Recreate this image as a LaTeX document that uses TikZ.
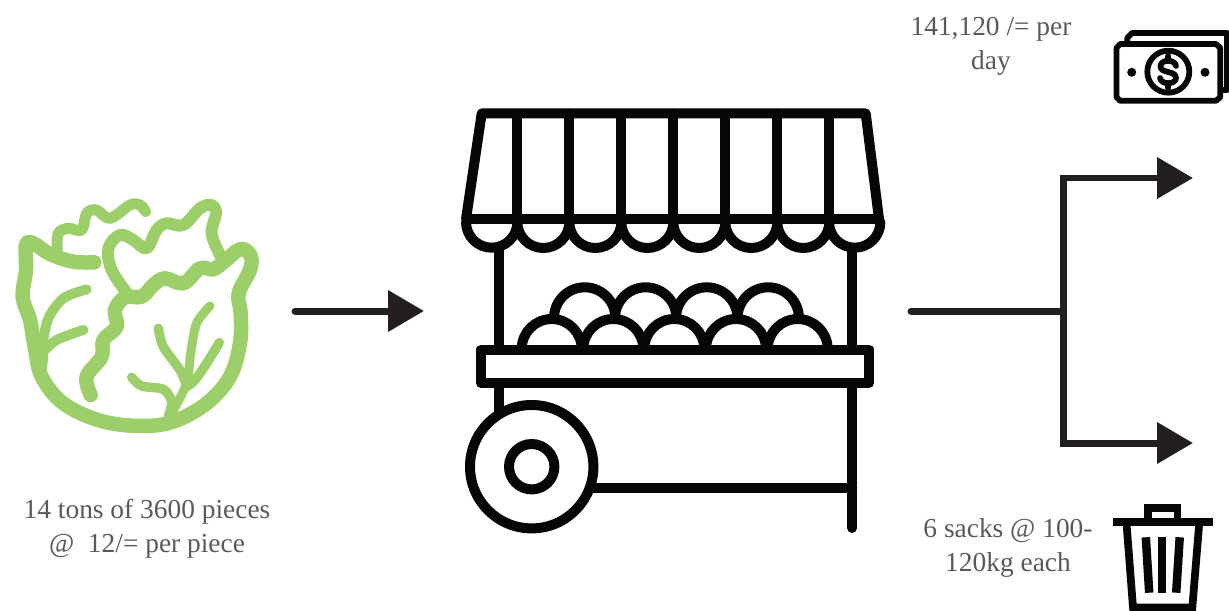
\documentclass[tikz,border=0pt]{standalone}
\usepackage{fontspec}
\setmainfont{Liberation Serif}
\usetikzlibrary{arrows.meta, positioning}
\definecolor{leaf-green}{RGB}{156,207,106}
\definecolor{arrow-dark}{RGB}{35,31,32}
\definecolor{icon-black}{RGB}{6,6,4}
\definecolor{note-gray}{RGB}{89,89,89}

\begin{document}
\begin{tikzpicture}[
  x=0.02cm, y=-0.02cm,
  note/.style={align=center, font=\fontsize{15.6pt}{19.3pt}\selectfont, text=note-gray, inner sep=0pt},
  arr/.style={-{Triangle[length=0.72cm, width=0.8cm]}, line width=0.14cm, arrow-dark},
  icon/.style={line width=0.2cm, icon-black, line join=round, line cap=round},
  thinicon/.style={line width=0.115cm, icon-black, line join=round, line cap=round},
  leaf/.style={line width=0.29cm, leaf-green, line join=round, line cap=round},
  vein/.style={line width=0.24cm, leaf-green, line join=round, line cap=round},
]
  \useasboundingbox (0,0) rectangle (1229,611);
  \clip (0,0) rectangle (1229,611);

  % Lettuce
  \begin{scope}[shift={(0,180)}, scale=0.3333]
    \draw[leaf] plot[smooth, tension=0.6] coordinates {(283,247) (220,245) (150,222) (100,190) (78,195) (78,270) (68,350) (90,420) (104,500) (125,590) (190,670) (300,722) (420,738) (520,725) (620,670) (690,590) (720,490) (722,400) (716,340) (750,270) (752,228) (722,207) (672,245) (640,268) (600,265) (550,310) (495,295) (460,315) (425,350) (375,352) (345,390) (350,440) (310,480) (305,530) (260,590) (272,645)};
    \draw[vein] plot[smooth, tension=0.6] coordinates {(378,335) (335,270) (325,205) (360,165) (400,180) (440,205) (470,150) (500,130) (550,135) (600,85) (635,75) (648,100) (635,160) (660,225)};
    \draw[vein, line width=0.22cm] plot[smooth, tension=0.6] coordinates {(172,208) (175,160) (205,145) (245,150) (260,100) (290,90) (330,115) (390,75) (420,75) (437,95)};
    \draw[vein, line width=0.2cm] plot[smooth] coordinates {(128,490) (145,415) (190,355) (260,328)};
    \draw[vein, line width=0.2cm] plot[smooth] coordinates {(130,515) (170,480) (250,450)};
    \draw[vein, line width=0.18cm] plot[smooth] coordinates {(515,700) (560,610) (572,520) (590,430) (630,378)};
    \draw[vein, line width=0.19cm] plot[smooth] coordinates {(475,445) (490,500) (540,570) (555,605)};
    \draw[vein, line width=0.19cm] plot[smooth] coordinates {(658,488) (620,550) (585,600) (560,620)};
    \draw[vein, line width=0.19cm] plot[smooth] coordinates {(395,592) (425,618) (490,628) (515,665) (505,710)};
    \fill[leaf-green] (95,430) -- (125,470) -- (145,530) -- (140,570) -- (100,560) -- cycle;
  \end{scope}

  % Stall
  \draw[icon] (481.7,113.5) -- (865.7,113.5) -- (879,219) -- (466,219) -- cycle;
  \foreach \x in {517.3,569.3,621.3,673.3,725.3,777.3,829}
    \draw[icon] (\x,113.5) -- (\x,222);
  \foreach \x/\r in {466/25.7,517.3/26,569.3/26,621.3/26,673.3/26,725.3/26,777.3/26,829/25.7}
    \draw[icon] (\x,222) arc (180:0:\r);
  \draw[icon] (499.3,250) -- (499.3,349);
  \draw[icon] (852.3,250) -- (852.3,349);
  \foreach \x in {554,615,676,737.5}
    \draw[icon] (\x,318) arc (180:360:30.7);
  \foreach \x in {521.7,583.3,644.3,706,767.7}
    \draw[icon] (\x,349) arc (180:360:30);
  \draw[icon] (481,349.5) rectangle (869,383);
  \draw[icon] (499.3,383) -- (499.3,412);
  \draw[icon] (852.3,383) -- (852.3,528);
  \draw[icon] (531.7,466.7) circle [radius=61.7];
  \draw[icon] (531.7,466.7) circle [radius=22.7];
  \draw[icon] (590,487.7) -- (852.3,487.7);

  % Money
  \draw[thinicon] (1127.3,44) -- (1127.3,38) -- (1132,33) -- (1227,33) -- (1227,90) -- (1221,90);
  \draw[thinicon] (1120,44) -- (1216,44) -- (1220.3,48) -- (1220.3,97) -- (1216,100.8) -- (1120,100.8) -- (1116.5,97) -- (1116.5,48) -- cycle;
  \draw[thinicon] (1168.3,71.7) circle [radius=21];
  \fill[icon-black] (1131.7,72.3) circle [radius=4.5];
  \fill[icon-black] (1205,72.3) circle [radius=4.5];
  \draw[thinicon] (1176,66) .. controls (1175,59) and (1161,59) .. (1160.5,66) .. controls (1160,74) and (1176,70) .. (1176,78) .. controls (1175.5,85) and (1161,85) .. (1160,78);
  \draw[thinicon] (1168.3,56) -- (1168.3,61);
  \draw[thinicon] (1168.3,83) -- (1168.3,88);

  % Trash
  \draw[icon-black, line width=0.16cm] (1113.3,522) -- (1213.3,522);
  \draw[icon-black, line width=0.15cm] (1148,520) -- (1148,508) -- (1177.5,508) -- (1177.5,520);
  \draw[icon-black, line width=0.155cm] (1126.7,526) -- (1133,607.5) -- (1192.3,607.5) -- (1199,526);
  \draw[icon-black, line width=0.17cm] (1145.8,537.3) -- (1149.2,592.7);
  \draw[icon-black, line width=0.17cm] (1162.2,537.3) -- (1162.2,592.7);
  \draw[icon-black, line width=0.17cm] (1179.7,537.3) -- (1176.2,592.7);

  % Connectors
  \coordinate (lettuce-out) at (295,311);
  \coordinate (stall-in) at (424,311);
  \coordinate (stall-out) at (911,311);
  \coordinate (fork) at (1063,311);
  \coordinate (money-in) at (1193,178);
  \coordinate (trash-in) at (1193,443);
  \draw[arr, line cap=round] (lettuce-out) -- (stall-in);
  \draw[arrow-dark, line width=0.14cm, line cap=round] (stall-out) -- (fork);
  \draw[arr] (fork) |- (money-in);
  \draw[arr] (fork) |- (trash-in);

  % Notes
  \node[note] (lettuce-note) at (147,529) {14 tons of 3600 pieces\\@\ \ 12/= per piece};
  \node[note] (money-note) at (991,46) {141,120 /= per\\day};
  \node[note] (trash-note) at (1008,548) {6 sacks @ 100-\\120kg each};
\end{tikzpicture}
\end{document}
